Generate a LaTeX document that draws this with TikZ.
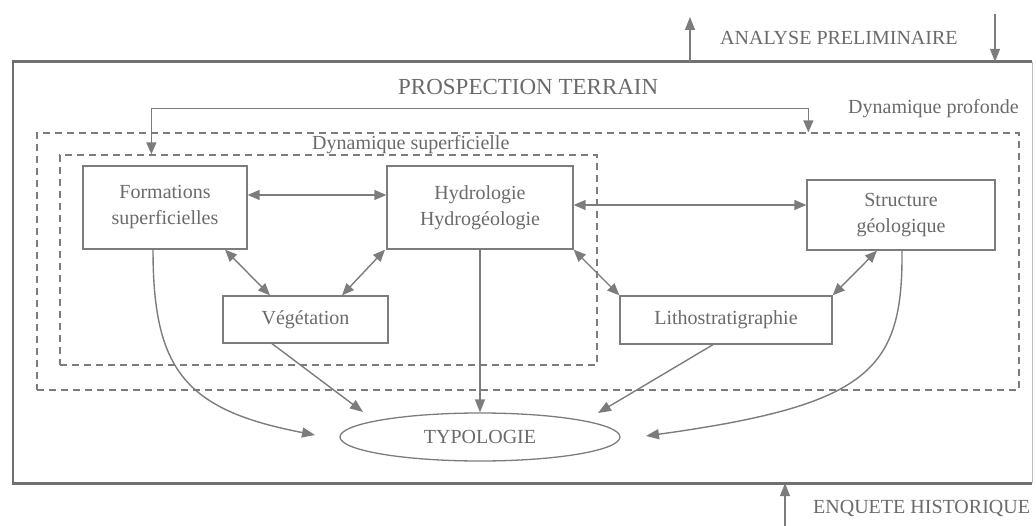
\documentclass[tikz,border=0pt]{standalone}
\usepackage{fontspec}
\setmainfont{Liberation Serif}
\usetikzlibrary{arrows.meta,calc,shapes.geometric}
\definecolor{ln}{HTML}{7C7C7C}
\definecolor{tx}{HTML}{6A6A6A}
\definecolor{frame}{HTML}{707070}
\tikzset{
  txt/.style={text=tx,font=\fontsize{20}{26}\selectfont,inner sep=0pt},
  boxnode/.style={draw=ln,line width=1.3pt,text=tx,font=\fontsize{20}{26}\selectfont,align=center,inner sep=0pt},
  dashbox/.style={draw=ln,line width=1.3pt,dash pattern=on 7pt off 5pt,inner sep=0pt},
  conn/.style={draw=ln,line width=1.4pt,-{Triangle[length=13pt,width=10pt]}},
  dconn/.style={draw=ln,line width=1.4pt,{Triangle[length=12pt,width=10pt]}-{Triangle[length=12pt,width=10pt]}}
}
\begin{document}
\begin{tikzpicture}[x=1pt,y=-1pt]
\useasboundingbox (0,0) rectangle (1036,526);
% outer frame
\node[inner sep=0pt,minimum width=1019pt,minimum height=421pt] (outer) at (522.5,272.5) {};
\draw[frame,line width=2.6pt] (outer.north east) -- (outer.north west) -- (outer.south west) -- (outer.south east);
\draw[ln!50,line width=0.8pt] (outer.north east) -- (outer.south east);
% dashed regions
\node[dashbox,minimum width=982pt,minimum height=257pt] (prof) at (528,261.5) {};
\node[dashbox,minimum width=537pt,minimum height=210pt] (sup) at (328.5,260) {};
% labels
\node[txt,anchor=base west] (anal) at (720,45) {ANALYSE PRELIMINAIRE};
\node[txt,anchor=base west,font=\fontsize{23}{26}\selectfont] (pros) at (398,95) {PROSPECTION TERRAIN};
\node[txt,anchor=base west] (dprof) at (848,114) {Dynamique profonde};
\node[txt,anchor=base west] (dsup) at (312,150) {Dynamique superficielle};
\node[txt,anchor=base west] (enq) at (813,513) {ENQUETE HISTORIQUE};
% boxes
\node[boxnode,minimum width=164pt,minimum height=83pt] (form) at (165,207.5) {Formations\\superficielles};
\node[boxnode,minimum width=186pt,minimum height=83pt] (hydro) at (480,207.5) {Hydrologie\\Hydrogéologie};
\node[boxnode,minimum width=188pt,minimum height=70pt] (struct) at (901,215) {Structure\\géologique};
\node[boxnode,minimum width=165pt,minimum height=47pt] (veg) at (305.5,319.5) {Végétation};
\node[boxnode,minimum width=212pt,minimum height=48pt] (litho) at (726,320) {Lithostratigraphie};
\node[draw=ln,line width=1.3pt,ellipse,text=tx,font=\fontsize{20}{26}\selectfont,minimum width=280pt,minimum height=48pt,inner sep=0pt] (typo) at (480,437) {TYPOLOGIE};
% free ends
\coordinate (upend) at (690,17);
\coordinate (downstart) at (995,14);
\coordinate (botstart) at (785,526);
\coordinate (formend) at (315,435);
\coordinate (structend) at (646,436);
\coordinate (vegend) at (363,412);
\coordinate (lithoend) at (598,413);
% top / bottom arrows
\draw[conn] (outer.north west -| upend) -- (upend);
\draw[conn] (downstart) -- (outer.north west -| downstart);
\draw[conn] (botstart) -- (outer.south west -| botstart);
% feedback line
\draw[dconn] ($(prof.north west)+(772,0)$) -- ++(0,-24) -| ($(sup.north west)+(92,0)$);
% horizontal links
\draw[dconn] ($(form.east)+(0,-12.5)$) -- ($(hydro.west)+(0,-12.5)$);
\draw[dconn] ($(hydro.east)+(0,-2.5)$) -- ($(struct.west)+(0,-10)$);
% diagonal links
\draw[dconn] ($(form.south)+(60,0)$) -- ($(veg.north)+(-35.5,0)$);
\draw[dconn] ($(hydro.south)+(-95,0)$) -- ($(veg.north)+(36.5,0)$);
\draw[dconn] (hydro.south east) -- (litho.north west);
\draw[dconn] ($(struct.south)+(-24,0)$) -- (litho.north east);
% to typologie
\draw[conn] ($(form.south)+(-12,0)$) .. controls (153,370) and (185,410) .. (formend);
\draw[conn] ($(veg.south)+(-33.5,0)$) -- (vegend);
\draw[conn] (hydro.south) -- (typo.north);
\draw[conn] ($(litho.south)+(-13,0)$) -- (lithoend);
\draw[conn] ($(struct.south)+(1,0)$) .. controls (903,370) and (870,405) .. (structend);
\end{tikzpicture}
\end{document}
